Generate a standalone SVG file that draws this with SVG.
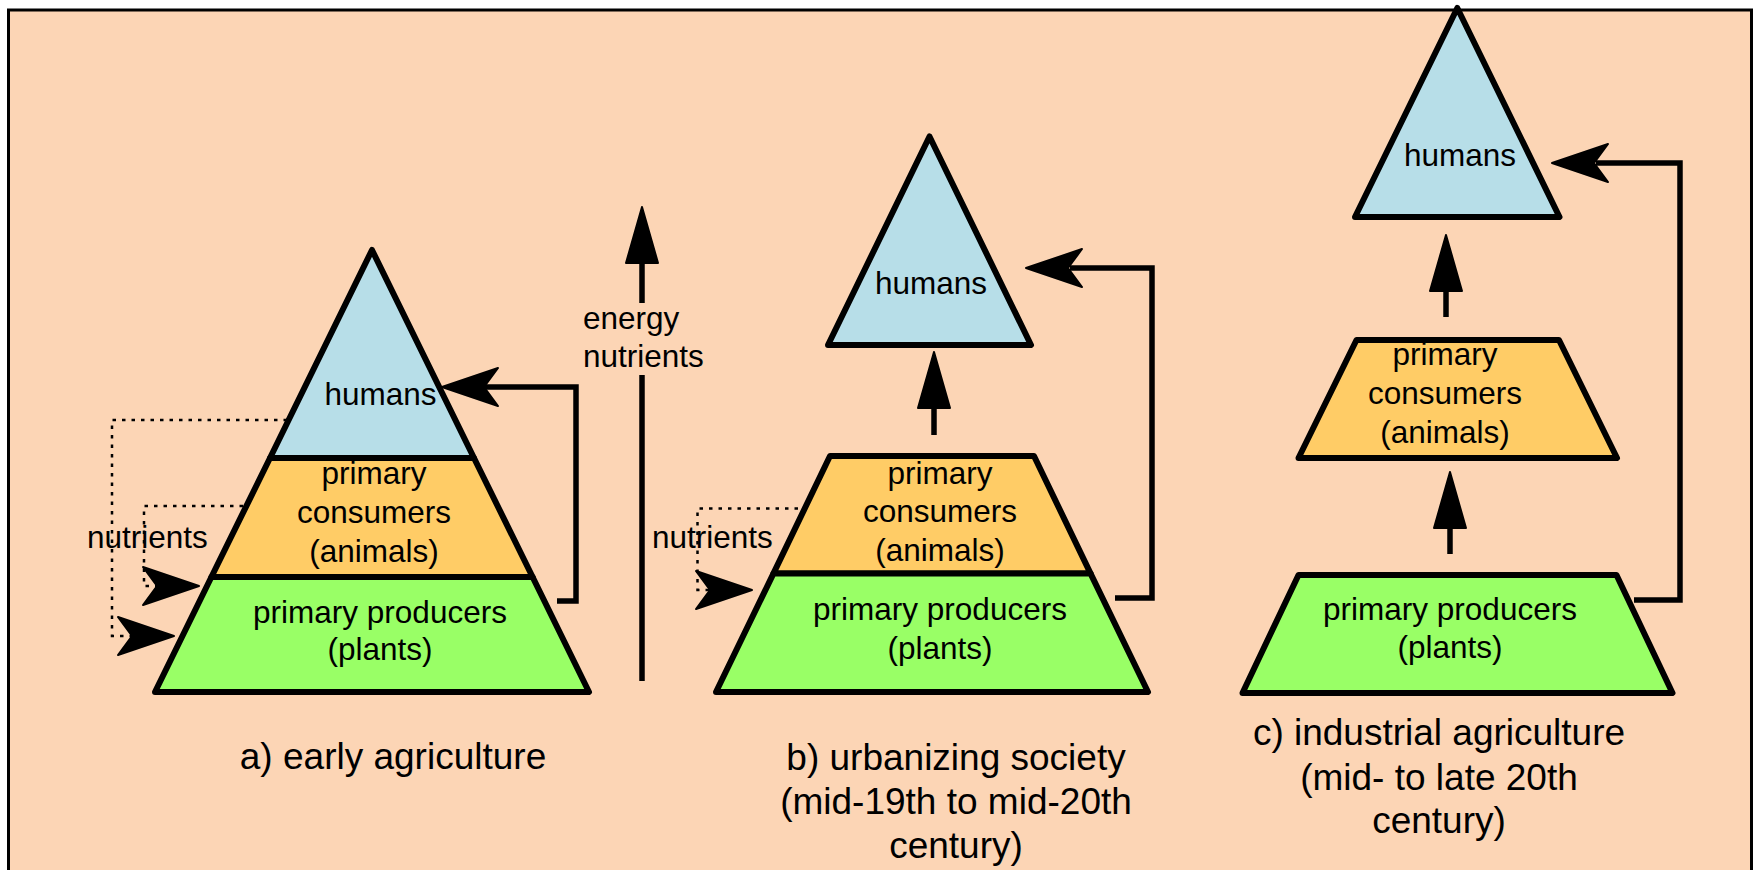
<svg xmlns="http://www.w3.org/2000/svg" xmlns:xlink="http://www.w3.org/1999/xlink" width="1758" height="870" viewBox="0 0 1758 870">
<style>
.shape{stroke:#000;stroke-width:6;stroke-linejoin:round}
.hum{fill:#B7DEE8}
.con{fill:#FFCC66}
.pro{fill:#99FF66}
.lbl{font-family:"Liberation Sans",Arial,Helvetica,sans-serif;font-size:31.5px;fill:#000;text-anchor:middle}
.lbs{font-family:"Liberation Sans",Arial,Helvetica,sans-serif;font-size:31.5px;fill:#000}
.cap{font-family:"Liberation Sans",Arial,Helvetica,sans-serif;font-size:37px;fill:#000;text-anchor:middle}
.solid{fill:none;stroke:#000;stroke-width:5.5}
.dot{fill:none;stroke:#000;stroke-width:2.5;stroke-dasharray:3.5 6}
.head{fill:#000;stroke:#000;stroke-width:2;stroke-linejoin:round}
</style>
<defs>
<path id="ahR" d="M0,0 L-56,-19 L-42,0 L-56,19 Z"/>
<path id="ahU" d="M0,0 L-16,56 L16,56 Z"/>
</defs>
<rect x="0" y="0" width="1758" height="870" fill="#FFFFFF"/>
<rect id="frame" x="8.5" y="10" width="1743" height="900" fill="#FCD5B5" stroke="#000" stroke-width="3"/>

<g id="a-humans">
<polygon class="shape hum" points="372,250 474,458 270,458"/>
<text class="lbl" x="380.5" y="405">humans</text>
</g>
<g id="a-consumers">
<polygon class="shape con" points="270,458 474,458 532.6,577 211.4,577"/>
<text class="lbl" x="374" y="484">primary</text>
<text class="lbl" x="374" y="523">consumers</text>
<text class="lbl" x="374" y="562">(animals)</text>
</g>
<g id="a-producers">
<polygon class="shape pro" points="211.4,577 532.6,577 589,692 155,692"/>
<text class="lbl" x="380" y="623">primary producers</text>
<text class="lbl" x="380" y="660">(plants)</text>
</g>

<g id="b-humans">
<polygon class="shape hum" points="929.5,136.5 1031,345 828,345"/>
<text class="lbl" x="931" y="294">humans</text>
</g>
<g id="b-consumers">
<polygon class="shape con" points="830,456 1034,456 1090.5,573.4 773.5,573.4"/>
<text class="lbl" x="940" y="483.5">primary</text>
<text class="lbl" x="940" y="522">consumers</text>
<text class="lbl" x="940" y="561">(animals)</text>
</g>
<g id="b-producers">
<polygon class="shape pro" points="773.5,573.4 1090.5,573.4 1148,692 716,692"/>
<text class="lbl" x="940" y="620">primary producers</text>
<text class="lbl" x="940" y="659">(plants)</text>
</g>

<g id="c-humans">
<polygon class="shape hum" points="1457.3,8 1559.5,217 1355,217"/>
<text class="lbl" x="1460" y="166">humans</text>
</g>
<g id="c-consumers">
<polygon class="shape con" points="1356.5,340 1559,340 1617,458 1298.5,458"/>
<text class="lbl" x="1445" y="365">primary</text>
<text class="lbl" x="1445" y="404">consumers</text>
<text class="lbl" x="1445" y="443">(animals)</text>
</g>
<g id="c-producers">
<polygon class="shape pro" points="1298.5,575 1616.5,575 1672.5,693 1242.5,693"/>
<text class="lbl" x="1450" y="620">primary producers</text>
<text class="lbl" x="1450" y="658">(plants)</text>
</g>

<g id="connectors">
<path class="solid" d="M557,601 H576 V387 H485"/>
<use xlink:href="#ahR" class="head" transform="translate(442,387) scale(-1,1)"/>
<path class="solid" d="M1115,598 H1152 V268 H1070"/>
<use xlink:href="#ahR" class="head" transform="translate(1026,268) scale(-1,1)"/>
<path class="solid" d="M1634,600 H1680 V163 H1596"/>
<use xlink:href="#ahR" class="head" transform="translate(1552,163) scale(-1,1)"/>
<path class="dot" d="M287,420 H112 V636 H135"/>
<use xlink:href="#ahR" class="head" transform="translate(174,636)"/>
<path class="dot" d="M243,506 H144 V586 H160"/>
<use xlink:href="#ahR" class="head" transform="translate(199,586)"/>
<path class="dot" d="M798,508.5 H697.5 V590 H712"/>
<use xlink:href="#ahR" class="head" transform="translate(752,590)"/>
<path class="solid" d="M642,681 V375 M642,303 V258"/>
<use xlink:href="#ahU" class="head" transform="translate(642,207)"/>
<path class="solid" d="M934,435 V402"/>
<use xlink:href="#ahU" class="head" transform="translate(934,352)"/>
<path class="solid" d="M1446,317 V285"/>
<use xlink:href="#ahU" class="head" transform="translate(1446,235)"/>
<path class="solid" d="M1450,554 V522"/>
<use xlink:href="#ahU" class="head" transform="translate(1450,472)"/>
</g>

<g id="labels">
<text class="lbs" x="87" y="548">nutrients</text>
<text class="lbs" x="652" y="547.5">nutrients</text>
<text class="lbs" x="583" y="329">energy</text>
<text class="lbs" x="583" y="366.5">nutrients</text>
</g>

<g id="captions">
<text class="cap" x="393" y="769">a) early agriculture</text>
<text class="cap" x="956" y="770">b) urbanizing society</text>
<text class="cap" x="956" y="814">(mid-19th to mid-20th</text>
<text class="cap" x="956" y="858">century)</text>
<text class="cap" x="1439" y="745">c) industrial agriculture</text>
<text class="cap" x="1439" y="789.5">(mid- to late 20th</text>
<text class="cap" x="1439" y="833">century)</text>
</g>
</svg>
